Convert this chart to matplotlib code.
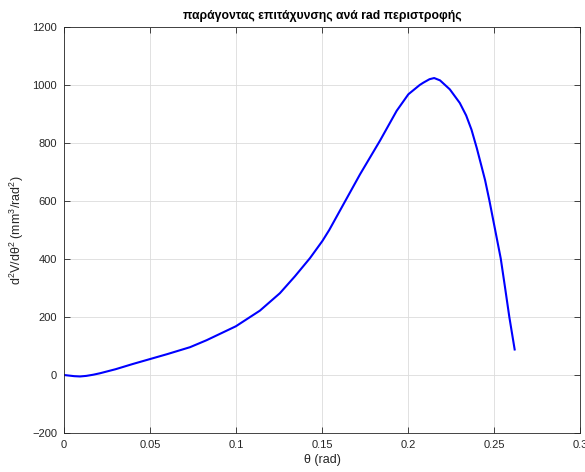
import matplotlib.pyplot as plt
from matplotlib.ticker import FixedLocator, FixedFormatter

plt.rcParams['font.family'] = ['Liberation Sans', 'DejaVu Sans']
plt.rcParams['mathtext.fontset'] = 'custom'
plt.rcParams['mathtext.rm'] = 'Liberation Sans'
plt.rcParams['mathtext.it'] = 'Liberation Sans'

# values
theta = [0.0, 0.003, 0.006, 0.0093, 0.013, 0.017, 0.0209, 0.03, 0.04, 0.05,
         0.06, 0.0733, 0.0829, 0.0999, 0.1139, 0.1255, 0.1342, 0.143,
         0.1502, 0.1542, 0.1624, 0.1721, 0.1837, 0.1934, 0.2002, 0.2068,
         0.2089, 0.2125, 0.2152, 0.2186, 0.2243, 0.2301, 0.2338, 0.2369,
         0.2400, 0.2428, 0.2448, 0.2473, 0.2506, 0.2539, 0.2564, 0.2589,
         0.262]
d2v = [0, -2, -4, -5, -3, 1, 6, 20, 38, 55,
       72, 96, 120, 168, 222, 282, 340, 403,
       462, 500, 588, 692, 808, 911, 968, 1000,
       1008, 1020, 1024, 1016, 985, 938, 895, 846,
       782, 718, 672, 602, 502, 402, 302, 200,
       88]

xticks = [0, 0.05, 0.1, 0.15, 0.2, 0.25, 0.3]
xlabels = ['0', '0.05', '0.1', '0.15', '0.2', '0.25', '0.3']
yticks = [-200, 0, 200, 400, 600, 800, 1000, 1200]

fig = plt.figure(figsize=(5.85, 4.72), dpi=100)
ax = fig.add_axes([0.1094, 0.0826, 0.8821, 0.8602])

ax.plot(theta, d2v, color=(0, 0, 1), linewidth=1.5)

ax.set_xlim(0, 0.3)
ax.set_ylim(-200, 1200)
ax.xaxis.set_major_locator(FixedLocator(xticks))
ax.xaxis.set_major_formatter(FixedFormatter(xlabels))
ax.set_yticks(yticks)

ax.grid(True, color='#dcdcdc', linewidth=0.6)
ax.set_axisbelow(True)
for s in ax.spines.values():
    s.set_color('#262626')
    s.set_linewidth(0.6)
ax.tick_params(direction='in', length=4, width=0.6, colors='#262626',
               labelsize=8, top=True, right=True, pad=5)

ax.set_title('παράγοντας επιτάχυνσης ανά rad περιστροφής',
             fontsize=8.8, fontweight='bold', pad=6)
ax.set_xlabel('θ (rad)', fontsize=9, color='#262626', labelpad=3)
ax.set_ylabel(r'd$^{2}$V/dθ$^{2}$ (mm$^{3}$/rad$^{2}$)', fontsize=9,
              color='#262626', labelpad=4)

fig.savefig('out.png', dpi=100)
